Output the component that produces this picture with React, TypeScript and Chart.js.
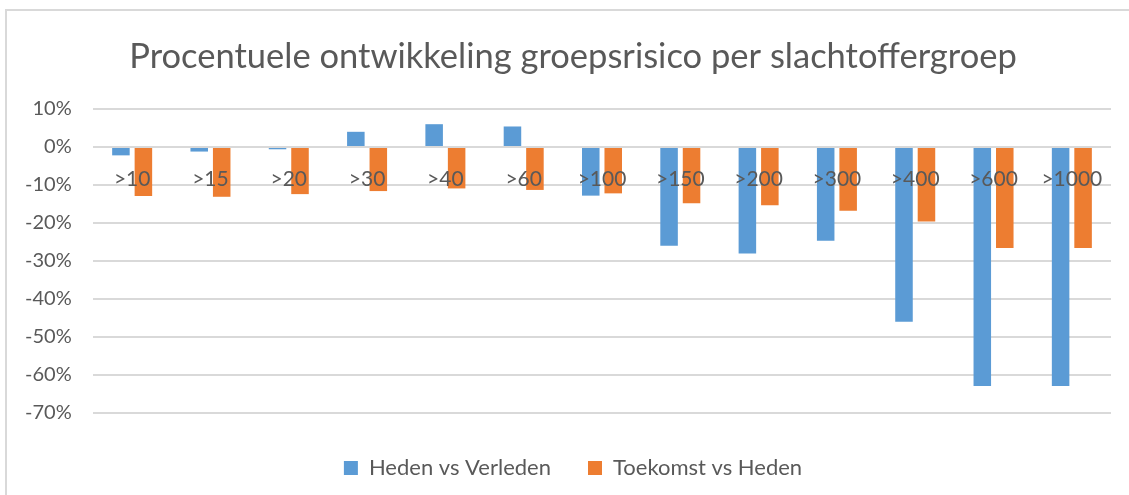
import React, { useEffect, useRef } from "react";
import { Chart, registerables } from "chart.js";

Chart.register(...registerables);

const titleText = "Procentuele ontwikkeling groepsrisico per slachtoffergroep";
const categories = [">10", ">15", ">20", ">30", ">40", ">60", ">100", ">150", ">200", ">300", ">400", ">600", ">1000"];
const seriesNames = ["Heden vs Verleden", "Toekomst vs Heden"];
const hedenVsVerleden = [-2.2, -1.2, -0.6, 4.0, 6.0, 5.4, -12.8, -26.0, -28.0, -24.7, -46.0, -62.9, -62.9];
const toekomstVsHeden = [-12.9, -13.1, -12.4, -11.6, -10.9, -11.3, -12.2, -14.8, -15.3, -16.8, -19.6, -26.6, -26.6];
const yMin = -70;
const yMax = 10;
const yStep = 10;

const FONT = "Lato";
const TEXT = "#595959";
const GRID = "#d9d9d9";

export default function App() {
  const ref = useRef<HTMLCanvasElement | null>(null);

  useEffect(() => {
    if (!ref.current) return;
    const chart = new Chart(ref.current, {
      type: "bar",
      data: {
        labels: categories,
        datasets: [
          {
            label: seriesNames[0],
            data: hedenVsVerleden,
            backgroundColor: "#5B9BD5",
            barPercentage: 0.78,
            categoryPercentage: 0.574,
          },
          {
            label: seriesNames[1],
            data: toekomstVsHeden,
            backgroundColor: "#ED7D31",
            barPercentage: 0.78,
            categoryPercentage: 0.574,
          },
        ],
      },
      options: {
        animation: false,
        responsive: true,
        maintainAspectRatio: false,
        layout: { padding: { left: 28, right: 18, top: 0, bottom: 6 } },
        plugins: {
          title: {
            display: true,
            text: titleText,
            color: TEXT,
            font: { family: FONT, size: 34.5, weight: "normal", lineHeight: 1.2 },
            padding: { top: 24.8, bottom: 31.8 },
          },
          legend: {
            position: "bottom",
            title: { display: true, text: "", font: { size: 7, lineHeight: 1 }, padding: 0 },
            labels: {
              color: TEXT,
              font: { family: FONT, size: 22 },
              boxWidth: 14,
              boxHeight: 14,
              padding: 37,
            },
          },
          tooltip: { enabled: false },
        },
        scales: {
          x: {
            position: { y: 0 },
            grid: { display: false, drawTicks: false },
            border: { display: false },
            ticks: {
              z: 1,
              color: TEXT,
              font: { family: FONT, size: 21 },
              padding: 20,
              maxRotation: 0,
              autoSkip: false,
            },
          },
          y: {
            min: yMin,
            max: yMax,
            grid: { color: GRID, lineWidth: 2, drawTicks: false },
            border: { display: false },
            ticks: {
              stepSize: yStep,
              color: TEXT,
              font: { family: FONT, size: 20 },
              mirror: true,
              crossAlign: "far",
              padding: -68,
              callback: (v: any) => `${v}%`,
            },
            afterFit: (scale: any) => {
              scale.width = 58;
            },
          },
        },
      },
    });
    return () => chart.destroy();
  }, []);

  return (
    <div
      style={{
        position: "absolute",
        left: 5,
        top: 9,
        width: 1124,
        height: 486,
        boxSizing: "border-box",
        borderTop: `2px solid ${GRID}`,
        borderLeft: `2px solid ${GRID}`,
        background: "#fff",
      }}
    >
      <div style={{ position: "relative", width: 1122, height: 484 }}>
        <canvas ref={ref} />
      </div>
    </div>
  );
}
